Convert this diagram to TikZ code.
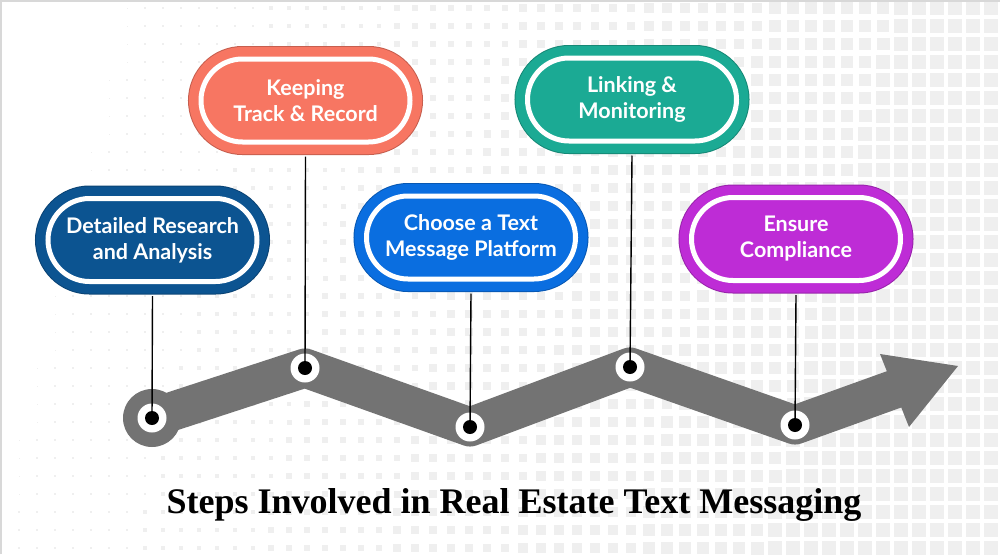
\documentclass[tikz,border=0pt]{standalone}
\usepackage{fontspec}
\newfontfamily\lato{Lato}
\newfontfamily\titlefont{Liberation Serif}
\definecolor{cdblue}{HTML}{0C5491}
\definecolor{ccoral}{HTML}{F77662}
\definecolor{cblue}{HTML}{0A6EE0}
\definecolor{cteal}{HTML}{1BAA94}
\definecolor{cpurple}{HTML}{BE2CD6}
\definecolor{cband}{HTML}{737373}
\definecolor{cbgsq}{HTML}{EFEFEF}
\definecolor{cframe}{HTML}{D8D8D8}
\tikzset{
  pill/.style={rectangle, minimum width=209pt, minimum height=83pt, inner sep=0pt,
    rounded corners=41.5pt, draw=white, line width=5pt, fill=#1,
    preaction={draw=#1!80!black, line width=26pt},
    preaction={draw=#1, line width=24pt},
    text=white, align=center, font=\lato\bfseries\fontsize{21.5}{26}\selectfont},
  ring/.style={circle, fill=white, minimum size=29pt, inner sep=0pt},
  blackdot/.style={circle, fill=black, minimum size=14pt, inner sep=0pt},
  conn/.style={draw=black, line width=1.4pt},
  bandline/.style={draw=cband, line width=39pt, line join=round},
}
\begin{document}
\begin{tikzpicture}[x=1pt,y=-1pt]
\useasboundingbox (0,0) rectangle (1000,554);
\fill[white] (0,0) rectangle (1000,554);
% background squares
\foreach \i in {1,...,55}{
  \foreach \j in {0,...,30}{
    \pgfmathsetmacro\cx{1+18*\i}
    \pgfmathsetmacro\cy{8+18*\j}
    \pgfmathsetmacro\s{min(13.5,1+0.016*(\cx-145+0.25*\cy))}
    \ifdim \s pt>0.7pt
      \fill[cbgsq] (\cx-\s/2,\cy-\s/2) rectangle (\cx+\s/2,\cy+\s/2);
    \fi
  }
}
\draw[cframe, line width=1.5pt] (0.75,554) -- (0.75,0.75) -- (1000,0.75);
% band
\coordinate (v1) at (152,418);
\coordinate (v2) at (305,368);
\coordinate (v3) at (470,427);
\coordinate (v4) at (630,367);
\coordinate (v5) at (795,425);
\coordinate (ab) at (895,389);
\fill[cband] (v1) circle (29);
\draw[bandline] (v1) -- (v2) -- (v3) -- (v4) -- (v5) -- (ab);
\fill[cband] (880,354) -- (958,366) -- (909,427) -- cycle;
% dots
\foreach \n/\p in {1/v1,2/v2,3/v3,4/v4,5/v5}{
  \node[ring] (r\n) at (\p) {};
}
% pills
\node[pill=cdblue] (p1) at (152.5,240) {Detailed Research\\and Analysis};
\node[pill=ccoral] (p2) at (305.5,100.5) {Keeping\\Track \& Record};
\node[pill=cblue] (p3) at (471,237.5) {Choose a Text\\Message Platform};
\node[pill=cteal] (p4) at (632,99.5) {Linking \&\\Monitoring};
\node[pill=cpurple] (p5) at (796,239) {Ensure\\Compliance};
% connectors
\foreach \n in {1,...,5}{
  \draw[conn] (r\n.center) -- ([yshift=-12pt]p\n.south);
  \node[blackdot] at (r\n.center) {};
}
% title
\node[font=\titlefont\bfseries\fontsize{36}{42}\selectfont, anchor=base] (title) at (514,513) {Steps Involved in Real Estate Text Messaging};
\end{tikzpicture}
\end{document}
